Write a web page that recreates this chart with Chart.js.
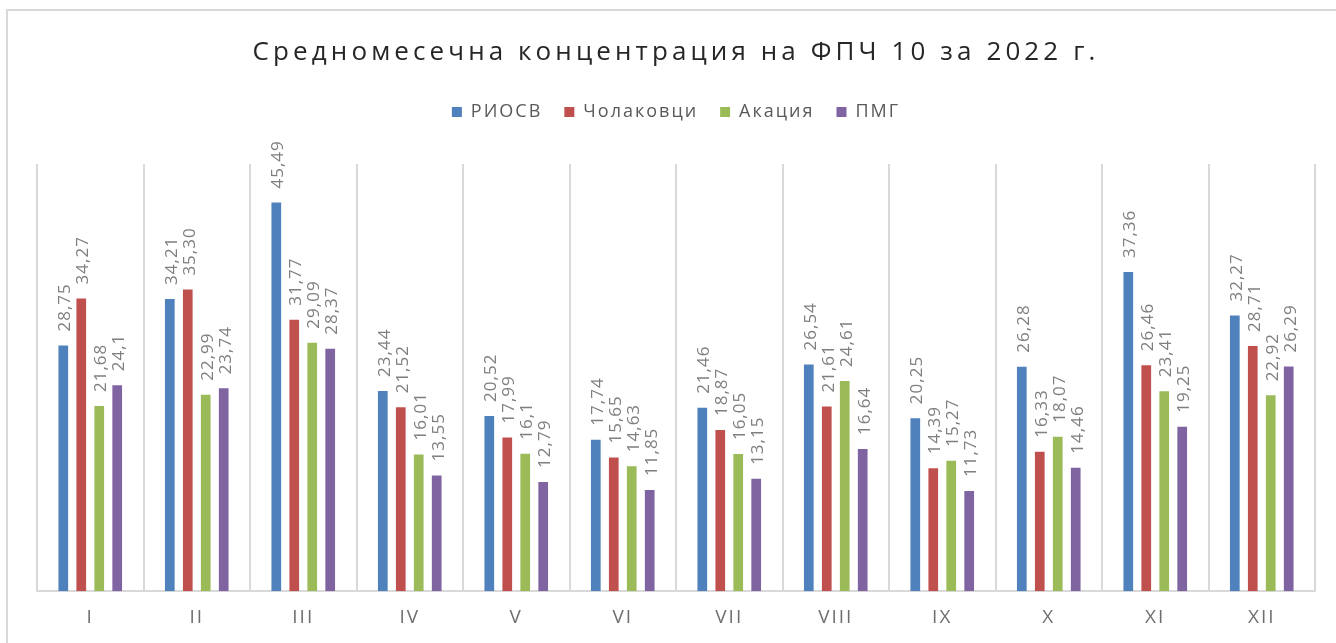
<!DOCTYPE html>
<html>
<head>
<meta charset="utf-8">
<script src="https://cdn.jsdelivr.net/npm/chart.js@4.4.1/dist/chart.umd.min.js"></script>
<style>
  html, body { margin: 0; padding: 0; background: #fff; }
  #wrap { width: 1336px; height: 643px; position: relative; }
</style>
</head>
<body>
<div id="wrap"><canvas id="chart"></canvas></div>
<script>
var months = ['I', 'II', 'III', 'IV', 'V', 'VI', 'VII', 'VIII', 'IX', 'X', 'XI', 'XII'];

// values kept as strings so the labels keep the decimals shown in the source
var riosv      = ['28.75', '34.21', '45.49', '23.44', '20.52', '17.74', '21.46', '26.54', '20.25', '26.28', '37.36', '32.27'];
var cholakovtsi = ['34.27', '35.30', '31.77', '21.52', '17.99', '15.65', '18.87', '21.61', '14.39', '16.33', '26.46', '28.71'];
var akatsia    = ['21.68', '22.99', '29.09', '16.01', '16.1', '14.63', '16.05', '24.61', '15.27', '18.07', '23.41', '22.92'];
var pmg        = ['24.1', '23.74', '28.37', '13.55', '12.79', '11.85', '13.15', '16.64', '11.73', '14.46', '19.25', '26.29'];

var titleText = 'Средномесечна концентрация на ФПЧ 10 за 2022 г.';

var frameAndTitle = {
  id: 'frameAndTitle',
  beforeInit: function (chart) {
    var fit = chart.legend.fit;
    chart.legend.fit = function () {
      fit.call(this);
      this.height += 33; // space between legend and plot
    };
  },
  beforeUpdate: function (chart) { chart.ctx.letterSpacing = '2px'; },
  beforeDraw: function (chart) {
    var ctx = chart.ctx;
    ctx.save();
    ctx.strokeStyle = '#d9d9d9';
    ctx.lineWidth = 2;
    ctx.beginPath();
    ctx.moveTo(7, chart.height);
    ctx.lineTo(7, 10);
    ctx.lineTo(chart.width, 10);
    ctx.stroke();

    ctx.letterSpacing = '4.1px';
    ctx.font = '26px "Open Sans"';
    ctx.fillStyle = '#262626';
    ctx.textAlign = 'center';
    ctx.textBaseline = 'middle';
    ctx.fillText(titleText, 676, 53);
    ctx.restore();
    ctx.letterSpacing = '2px';
  }
};

var barLabels = {
  id: 'barLabels',
  afterDatasetsDraw: function (chart) {
    var ctx = chart.ctx;
    ctx.save();
    ctx.letterSpacing = '1px';
    ctx.font = '17px "Open Sans"';
    ctx.fillStyle = '#7f7f7f';
    ctx.textAlign = 'left';
    ctx.textBaseline = 'middle';
    chart.data.datasets.forEach(function (ds, i) {
      chart.getDatasetMeta(i).data.forEach(function (bar, j) {
        ctx.save();
        ctx.translate(bar.x + 2, bar.y - 14);
        ctx.rotate(-Math.PI / 2);
        ctx.fillText(String(ds.data[j]).replace('.', ','), 0, 0);
        ctx.restore();
      });
    });
    ctx.restore();
  }
};

new Chart(document.getElementById('chart'), {
  type: 'bar',
  data: {
    labels: months,
    datasets: [
      { label: 'РИОСВ', data: riosv, backgroundColor: '#4f81bd' },
      { label: 'Чолаковци', data: cholakovtsi, backgroundColor: '#c0504d' },
      { label: 'Акация', data: akatsia, backgroundColor: '#9bbb59' },
      { label: 'ПМГ', data: pmg, backgroundColor: '#8064a2' }
    ]
  },
  options: {
    responsive: true,
    maintainAspectRatio: false,
    animation: false,
    categoryPercentage: 0.675,
    barPercentage: 0.54,
    layout: { padding: { top: 81, left: 37, right: 21, bottom: -1 } },
    plugins: {
      title: { display: false },
      tooltip: { enabled: false },
      legend: {
        position: 'top',
        labels: {
          boxWidth: 10,
          boxHeight: 10,
          padding: 22,
          color: '#595959',
          font: { family: '"Open Sans"', size: 18 }
        }
      }
    },
    scales: {
      x: {
        grid: { color: '#d9d9d9', lineWidth: 2, drawTicks: false },
        border: { color: '#d9d9d9', width: 2 },
        ticks: {
          color: '#6f6f6f',
          padding: 15,
          font: { family: '"Open Sans"', size: 19 }
        }
      },
      y: {
        display: false,
        min: 0,
        max: 50
      }
    }
  },
  plugins: [frameAndTitle, barLabels]
});
</script>
</body>
</html>
